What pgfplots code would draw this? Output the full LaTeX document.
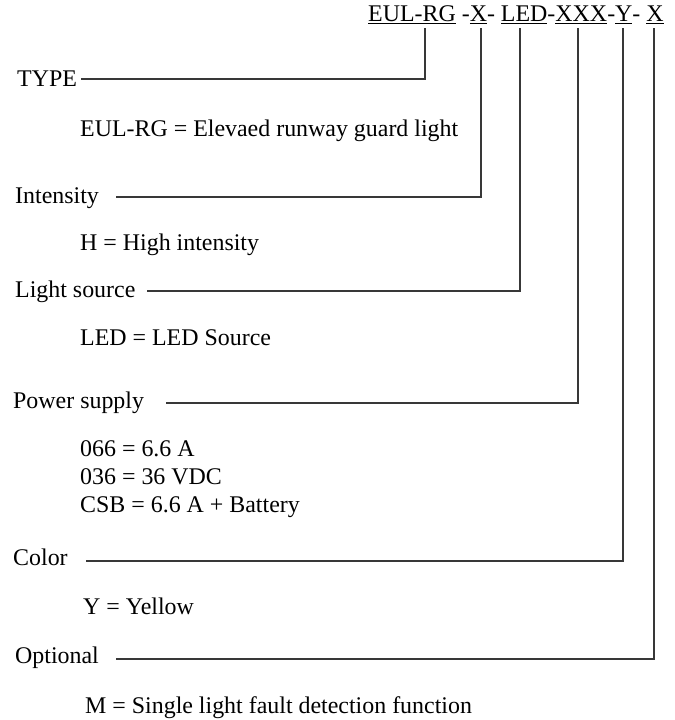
\documentclass[border=0pt]{standalone}
\usepackage{pgfplots}
\pgfplotsset{compat=1.18}
\usepackage{fontspec}
\setmainfont{Liberation Serif}
\begin{document}
\begin{tikzpicture}
\begin{axis}[
  width=674bp, height=720bp, scale only axis,
  xmin=0, xmax=674, ymin=0, ymax=720, y dir=reverse,
  hide axis, clip=false,
  conn/.style={line width=1.4pt, draw=black!78, solid, no marks, line join=miter, line cap=rect},
]
% connector lines
\addplot[conn] coordinates {(82,79) (425,79) (425,29)};
\addplot[conn] coordinates {(117,197) (481,197) (481,29)};
\addplot[conn] coordinates {(148,291) (520,291) (520,29)};
\addplot[conn] coordinates {(167,403) (578,403) (578,29)};
\addplot[conn] coordinates {(87,561) (623,561) (623,29)};
\addplot[conn] coordinates {(117,659) (654,659) (654,29)};
% text
\begin{scope}[every node/.style={anchor=base west, inner sep=0pt, font=\fontsize{24}{28}\selectfont}]
\node at (axis cs:368,22) {\underline{EUL-RG} -\underline{X}- \underline{LED}-\underline{XXX}-\underline{Y}- \underline{X}};
\node at (axis cs:17,87) {TYPE};
\node at (axis cs:80,137) {EUL-RG = Elevaed runway guard light};
\node at (axis cs:15,203) {Intensity};
\node at (axis cs:80,250) {H = High intensity};
\node at (axis cs:15,297) {Light source};
\node at (axis cs:80,345) {LED = LED Source};
\node at (axis cs:13,408) {Power supply};
\node at (axis cs:80,456) {066 = 6.6 A};
\node at (axis cs:80,484) {036 = 36 VDC};
\node at (axis cs:80,512) {CSB = 6.6 A + Battery};
\node at (axis cs:13,565) {Color};
\node at (axis cs:83,614) {Y = Yellow};
\node at (axis cs:15,663) {Optional};
\node at (axis cs:85,713) {M = Single light fault detection function};
\end{scope}
\path (axis cs:0,0) rectangle (axis cs:674,720);
\end{axis}
\end{tikzpicture}
\end{document}
